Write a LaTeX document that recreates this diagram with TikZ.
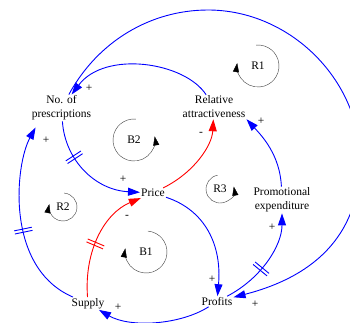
\documentclass[tikz,border=0pt]{standalone}
\usepackage{fontspec}
\setmainfont{Liberation Serif}
\usetikzlibrary{arrows.meta,decorations.markings}
\tikzset{
  var/.style={align=center,inner sep=1pt,font=\fontsize{11.5}{14}\selectfont},
  sgn/.style={inner sep=0pt,font=\fontsize{11.5}{14}\selectfont},
  link/.style={blue,line width=0.9pt,-{Triangle[length=12pt,width=8pt]}},
  neglink/.style={link,red},
  loopmark/.style={black!75,line width=0.4pt,-{Triangle[length=9pt,width=6pt,color=black]}},
  delay/.style={postaction={decorate,decoration={markings,
    mark=at position #1 with {\draw[-,line width=0.9pt] (-1.6pt,-9pt) -- (-1.6pt,9pt) (1.6pt,-9pt) -- (1.6pt,9pt);}}}}
}
\begin{document}
\begin{tikzpicture}[x=1pt,y=-1pt]
\useasboundingbox (0,0) rectangle (350,322);
\clip (0,0) rectangle (350,322);
% variables
\node[var] (nopresc) at (61.5,108) {No. of\\prescriptions};
\node[var] (relattr) at (214,107) {Relative\\attractiveness};
\node[var] (price) at (153,193) {Price};
\node[var] (promo) at (282,200) {Promotional\\expenditure};
\node[var] (supply) at (88,303.5) {Supply};
\node[var] (profits) at (217,301.5) {Profits};
% loop names
\node[sgn] (r1) at (258,66) {R1};
\node[sgn] (b2) at (134,140) {B2};
\node[sgn] (r2) at (63,207) {R2};
\node[sgn] (r3) at (220,189) {R3};
\node[sgn] (b1) at (146,252) {B1};
\draw[loopmark] ([shift={(-95:21)}]r1.center) arc[start angle=-95,end angle=188,radius=21];
\draw[loopmark] ([shift={(-85:21)}]b2.center) arc[start angle=-85,end angle=-370,radius=21];
\draw[loopmark] ([shift={(-85:14)}]r2.center) arc[start angle=-85,end angle=192,radius=14];
\draw[loopmark] ([shift={(-100:14)}]r3.center) arc[start angle=-100,end angle=-370,radius=14];
\draw[loopmark] ([shift={(-85:21)}]b1.center) arc[start angle=-85,end angle=190,radius=21];
% links
\draw[link] (relattr) .. controls (185,62) and (105,50) .. (nopresc);
\draw[link] (nopresc) .. controls (98,41) and (151,10) .. (208,10)
  .. controls (290,10) and (360,80) .. (360,160)
  .. controls (360,230) and (320,275) .. (profits);
\draw[link] (promo) .. controls (280,155) and (262,136) .. (relattr.south east);
\draw[link,delay=0.42] (profits) .. controls (262,278) and (282,245) .. (promo);
\draw[neglink] (price) .. controls (195,172) and (212,145) .. (relattr);
\draw[link] (price) .. controls (205,210) and (222,245) .. (profits);
\draw[link] (profits) .. controls (180,325) and (130,328) .. (supply);
\draw[neglink,delay=0.45] (supply) .. controls (84,250) and (105,213) .. (price);
\draw[link,delay=0.33] (nopresc) .. controls (65,160) and (95,190) .. (price);
\draw[link,delay=0.45] (supply) .. controls (5,268) and (15,165) .. ([xshift=5pt,yshift=-6pt]nopresc.south west);
% polarities
\node[sgn] (s1) at (89,88) {+};
\node[sgn] (s2) at (255,304) {+};
\node[sgn] (s3) at (261,121) {+};
\node[sgn] (s4) at (272,227) {+};
\node[sgn] (s5) at (201,134) {-};
\node[sgn] (s6) at (212,279) {+};
\node[sgn] (s7) at (118,307) {+};
\node[sgn] (s8) at (127,217) {-};
\node[sgn] (s9) at (123,179) {+};
\node[sgn] (s10) at (46,140) {+};
\end{tikzpicture}
\end{document}
